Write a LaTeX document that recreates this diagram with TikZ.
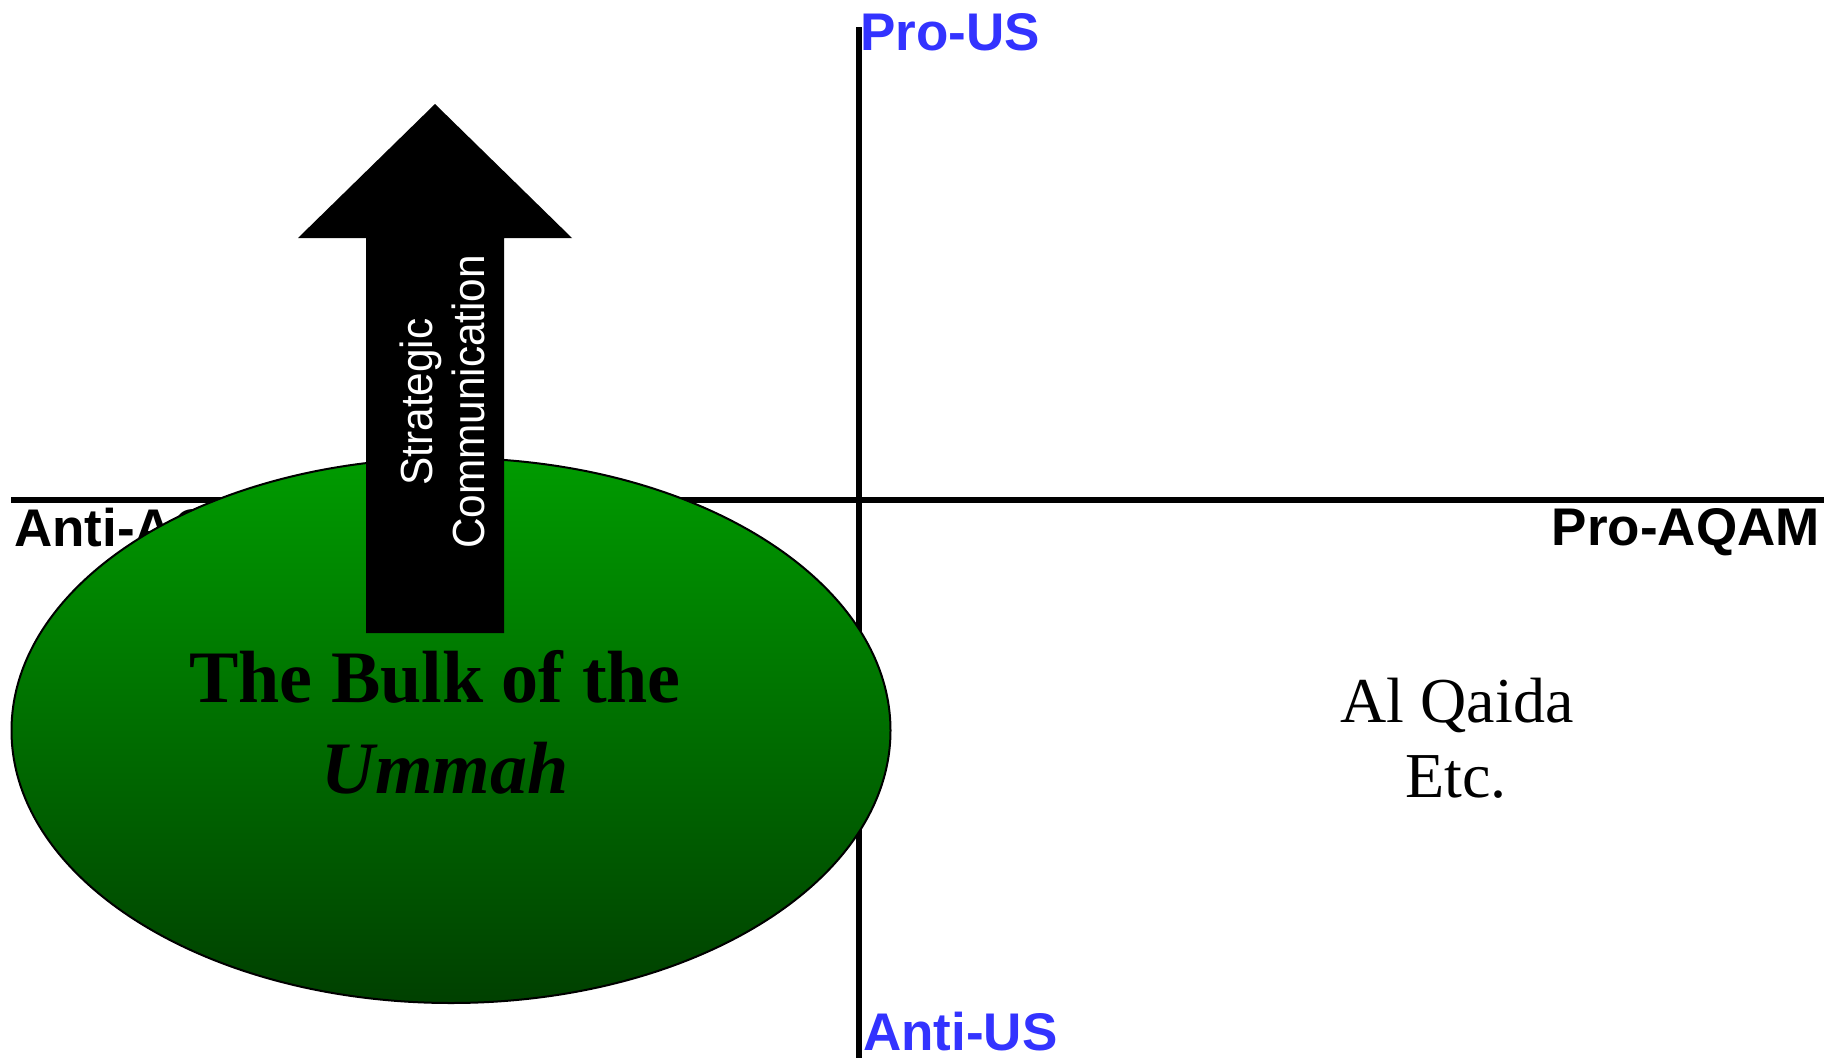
\documentclass[tikz,border=0pt]{standalone}
\usepackage{fontspec}
\setmainfont{Liberation Serif}
\setsansfont{Liberation Sans}
\newfontfamily\narrowsans[FakeStretch=0.94]{Liberation Sans}
\usetikzlibrary{shapes.geometric}
\definecolor{axisblue}{RGB}{51,51,255}
\definecolor{greentop}{RGB}{0,155,0}
\definecolor{greenbot}{RGB}{0,64,0}
\tikzset{
  axisline/.style={line width=6pt, black},
  axislabel/.style={inner sep=0pt, font=\sffamily\bfseries\fontsize{53}{63}\selectfont},
  bluelabel/.style={axislabel, text=axisblue},
  serifbig/.style={inner sep=0pt, anchor=base, font=\rmfamily\fontsize{64}{75}\selectfont},
  bulktext/.style={inner sep=0pt, anchor=base, font=\rmfamily\bfseries\fontsize{74}{88}\selectfont},
}
\begin{document}
\begin{tikzpicture}[x=1pt,y=-1pt]
\useasboundingbox (0,0) rectangle (1824,1058);
\fill[white] (0,0) rectangle (1824,1058);
% axes
\coordinate (vtop) at (859,27);
\coordinate (vbot) at (859,1058);
\coordinate (hleft) at (11,500);
\coordinate (hright) at (1824,500);
\draw[axisline] (vtop) -- (vbot);
\draw[axisline] (hleft) -- (hright);
% axis labels
\node[bluelabel, anchor=base west] (prous) at (860,50) {Pro-US};
\node[bluelabel, anchor=base west] (antius) at (863,1050) {Anti-US};
\node[axislabel, anchor=base west] (antiaqam) at (14,546) {Anti-AQAM};
\node[axislabel, anchor=base east] (proaqam) at (1820,545) {Pro-AQAM};
% ellipse
\node[ellipse, draw=black, line width=2pt, minimum width=879pt, minimum height=545pt,
      inner sep=0pt, top color=greentop, bottom color=greenbot] (umma) at (451,730.5) {};
% arrow
\coordinate (tip) at (435,104);
\coordinate (hl) at (298,238);
\coordinate (hr) at (572,238);
\coordinate (sl) at (366,238);
\coordinate (sr) at (504,238);
\coordinate (bl) at (366,633);
\coordinate (br) at (504,633);
\fill[black] (tip) -- (hr) -- (sr) -- (br) -- (bl) -- (sl) -- (hl) -- cycle;
\node[rotate=90, text=white, inner sep=0pt, align=center,
      font=\narrowsans\fontsize{45}{52}\selectfont] (strat) at (442,402) {Strategic\\Communication};
% ellipse text
\node[bulktext] (bulk) at (435,702) {The Bulk of the};
\node[bulktext] (ummah) at (445,793) {\itshape Ummah};
% Al Qaida
\node[serifbig] (alq) at (1457,722) {Al Qaida};
\node[serifbig] (etc) at (1456,797) {Etc.};
\end{tikzpicture}
\end{document}
